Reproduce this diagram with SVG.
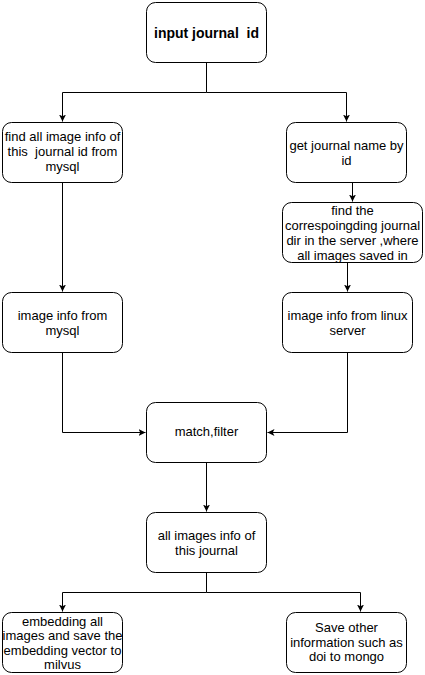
<svg xmlns="http://www.w3.org/2000/svg" width="425" height="675" viewBox="0 0 425 675">
<style>
.box{fill:#fff;stroke:#000;stroke-width:1}
.t{font-family:"Liberation Sans",Arial,sans-serif;font-size:13px;fill:#000;text-anchor:middle;white-space:pre}
.b{font-weight:bold;font-size:14px}
.c{fill:none;stroke:#000;stroke-width:1}
</style>
<defs>
<marker id="ah" markerUnits="userSpaceOnUse" markerWidth="8" markerHeight="8" refX="7" refY="3.5" orient="auto">
<path d="M0,0 L7,3.5 L0,7 L1.75,3.5 Z" fill="#000"/>
</marker>
</defs>
<rect width="425" height="675" fill="#fff"/>
<g id="connectors">
<path class="c" d="M206.5,62.5 V92.5 H62.5 V121.5" marker-end="url(#ah)"/>
<path class="c" d="M206.5,92.5 H346.5 V121.5" marker-end="url(#ah)"/>
<path class="c" d="M352.5,182.5 V201.5" marker-end="url(#ah)"/>
<path class="c" d="M347.5,262.5 V291.5" marker-end="url(#ah)"/>
<path class="c" d="M62.5,182.5 V291.5" marker-end="url(#ah)"/>
<path class="c" d="M62.5,352.5 V432.5 H145.5" marker-end="url(#ah)"/>
<path class="c" d="M347.5,352.5 V432.5 H267.5" marker-end="url(#ah)"/>
<path class="c" d="M206.5,462.5 V511.5" marker-end="url(#ah)"/>
<path class="c" d="M206.5,572.5 V592.5 H62.5 V611.5" marker-end="url(#ah)"/>
<path class="c" d="M206.5,592.5 H360.5 V611.5" marker-end="url(#ah)"/>
</g>
<g id="n1"><rect class="box" x="146.5" y="2.5" width="120" height="60" rx="9"/>
<text class="t b" x="206.5" y="38">input journal  id</text></g>
<g id="n2"><rect class="box" x="2.5" y="122.5" width="120" height="60" rx="9"/>
<text class="t" x="62.5" y="141">find all image info of</text>
<text class="t" x="62.5" y="156">this  journal id from</text>
<text class="t" x="62.5" y="171">mysql</text></g>
<g id="n3"><rect class="box" x="286.5" y="122.5" width="120" height="60" rx="9"/>
<text class="t" x="346.5" y="149.5">get journal name by</text>
<text class="t" x="346.5" y="164.5">id</text></g>
<g id="n4"><rect class="box" x="282.5" y="202.5" width="140" height="60" rx="9"/>
<text class="t" x="352.5" y="215">find the</text>
<text class="t" x="352.5" y="230">correspoingding journal</text>
<text class="t" x="352.5" y="245">dir in the server ,where</text>
<text class="t" x="352.5" y="260">all images saved in</text></g>
<g id="n5"><rect class="box" x="282.5" y="292.5" width="130" height="60" rx="9"/>
<text class="t" x="347.5" y="319.5">image info from linux</text>
<text class="t" x="347.5" y="334.5">server</text></g>
<g id="n6"><rect class="box" x="2.5" y="292.5" width="120" height="60" rx="9"/>
<text class="t" x="62.5" y="319.5">image info from</text>
<text class="t" x="62.5" y="334.5">mysql</text></g>
<g id="n7"><rect class="box" x="146.5" y="402.5" width="120" height="60" rx="9"/>
<text class="t" x="206.5" y="436">match,filter</text></g>
<g id="n8"><rect class="box" x="146.5" y="512.5" width="120" height="60" rx="9"/>
<text class="t" x="206.5" y="539.5">all images info of</text>
<text class="t" x="206.5" y="554.5">this journal</text></g>
<g id="n9"><rect class="box" x="2.5" y="612.5" width="120" height="60" rx="9"/>
<text class="t" x="62.5" y="625.5">embedding all</text>
<text class="t" x="62.5" y="640">images and save the</text>
<text class="t" x="62.5" y="654.5">embedding vector to</text>
<text class="t" x="62.5" y="669">milvus</text></g>
<g id="n10"><rect class="box" x="286.5" y="612.5" width="120" height="60" rx="9"/>
<text class="t" x="346.5" y="632">Save other</text>
<text class="t" x="346.5" y="646.5">information such as</text>
<text class="t" x="346.5" y="661">doi to mongo</text></g>
</svg>
